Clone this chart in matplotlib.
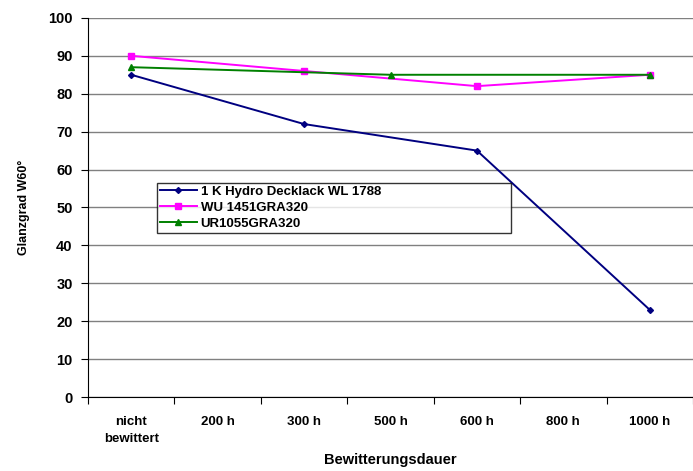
import numpy as np
import matplotlib.pyplot as plt

plt.rcParams['font.family'] = ['Liberation Sans', 'DejaVu Sans']

categories = ['nicht\nbewittert', '200 h', '300 h', '500 h', '600 h', '800 h', '1000 h']
hydro = [85, None, 72, None, 65, None, 23]
wu = [90, None, 86, None, 82, None, 85]
ur = [87, None, None, 85, None, None, 85]

series = [
    ('1 K Hydro Decklack WL 1788', hydro, '#000080', 'D', 3),
    ('WU 1451GRA320', wu, '#FF00FF', 's', 5),
    ('UR1055GRA320', ur, '#008000', '^', 5),
]

fig = plt.figure(figsize=(6.93, 4.71), dpi=100, facecolor='white')
ax = fig.add_axes([0.127, 0.157, 0.873, 0.805])

X = np.arange(len(categories))
for name, vals, col, mk, ms in series:
    idx = [i for i, v in enumerate(vals) if v is not None]
    ax.plot(X[idx], [vals[i] for i in idx], color=col, marker=mk, markersize=ms,
            linewidth=1.4, label=name)

ax.set_xlim(-0.5, len(categories) - 0.5)
ax.set_ylim(0, 100)
ax.set_yticks(range(0, 101, 10))
ax.set_xticks(np.arange(-0.5, len(categories), 1.0))
ax.set_xticklabels([])
ax.set_xticks(X, minor=True)
ax.set_xticklabels(categories, minor=True, fontsize=9.5, fontweight='bold',
                   linespacing=1.45)
ax.tick_params(axis='x', which='minor', length=0, pad=14)
ax.tick_params(axis='x', which='major', length=5, direction='out')
ax.tick_params(axis='y', length=5, direction='out', labelsize=10.5, pad=6)
for t in ax.get_yticklabels():
    t.set_fontweight('bold')

ax.grid(True, axis='y', color='#808080', linewidth=1)
ax.set_axisbelow(True)
for s in ['top', 'right']:
    ax.spines[s].set_visible(False)

ax.set_ylabel('Glanzgrad W60°', fontsize=9, fontweight='bold', labelpad=13)
ax.set_xlabel('Bewitterungsdauer', fontsize=10.5, fontweight='bold', labelpad=6)

leg = ax.legend(loc='upper left', bbox_to_anchor=(0.114, 0.425, 0.585, 0.14),
                mode='expand', prop={'weight': 'bold', 'size': 9.5},
                frameon=True, fancybox=False, edgecolor='black',
                handlelength=2.8, borderpad=0.2, labelspacing=0.3,
                handletextpad=0.3, borderaxespad=0)
leg.get_frame().set_linewidth(1)

fig.savefig('out.png', dpi=100, facecolor='white')
